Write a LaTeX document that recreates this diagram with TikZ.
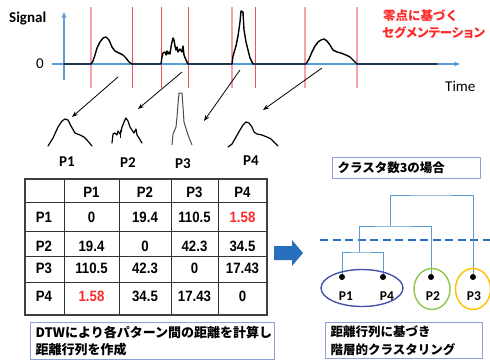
\documentclass[tikz,border=0pt]{standalone}
\usepackage{fontspec}
\setmainfont{Carlito}
\newfontfamily\jp{Noto Sans CJK JP}
\newfontfamily\jpp{Noto Sans CJK JP}[RawFeature=+palt]
\newfontfamily\tabf{Liberation Sans}[FakeStretch=0.88]
\usetikzlibrary{arrows.meta}
\definecolor{axisblue}{RGB}{91,155,213}
\definecolor{segred}{RGB}{240,80,95}
\definecolor{segpink}{RGB}{250,160,170}
\definecolor{hot}{RGB}{255,40,40}
\definecolor{boxline}{RGB}{143,160,215}
\definecolor{bigblue}{RGB}{40,112,190}
\definecolor{elblue}{RGB}{68,84,168}
\definecolor{elgreen}{RGB}{140,200,75}
\definecolor{elorange}{RGB}{255,192,0}
\newcommand\myfs[2]{\fontsize{#1}{#2}\selectfont}
\tikzset{
  lab/.style={inner sep=0, font=\myfs{15}{18}\bfseries},
  tabtxt/.style={inner sep=0, font=\tabf\myfs{15}{18}\bfseries},
  capbox/.style={draw=boxline, line width=1pt, anchor=north west, inner xsep=5pt, inner ysep=0pt, align=left, font=\jp\bfseries\myfs{13}{17.5}},
  arr/.style={-{Stealth[length=6pt,width=4.5pt]}, line width=0.8pt},
  segline/.style={segred, line width=1pt},
  segwide/.style={segpink, line width=1.8pt},
  wave/.style={line width=1.4pt, line join=round, line cap=round},
  pat/.style={line width=1.2pt, line join=round, line cap=round},
  dot/.style={circle, fill=black, inner sep=0, minimum size=6pt},
  dendro/.style={axisblue, line width=1pt},
}
\begin{document}
\begin{tikzpicture}[x=1pt,y=-1pt]
\useasboundingbox (0,0) rectangle (490,360);

% ---------- segmentation lines ----------
\foreach \x in {91,232,305,357} \draw[segwide] (\x,7) -- (\x,88);
\foreach \x in {132,161,188,255} \draw[segline] (\x,7) -- (\x,88);

% ---------- axes ----------
\coordinate (xs) at (52,64);
\coordinate (xe) at (460,64);
\coordinate (ys) at (64,80);
\coordinate (ye) at (64,12);
\draw[axisblue, line width=1.4pt, -{Stealth[length=6pt,width=5pt]}] (xs) -- (xe);
\draw[axisblue, line width=1.4pt, -{Stealth[length=6pt,width=5pt]}] (ys) -- (ye);
\node[lab, anchor=west] (sig) at (9,19) {Signal};
\node[inner sep=0, font=\myfs{15}{18}] (zero) at (40,64) {0};
\node[inner sep=0, font=\myfs{15}{18}, anchor=west] (time) at (445,86) {Time};

% ---------- signal ----------
\draw[wave] (64,64) -- (91,64) -- (93,61) -- (95,55) -- (97,48) -- (100,42) -- (103,38) -- (106,37) -- (109,40) -- (112,47) -- (115,51) -- (119,53) -- (123,55) -- (126,58) -- (129,62) -- (132,64)
 -- (161,64) -- (162,57) -- (163,53) -- (165,52) -- (166,55) -- (167,51) -- (168,54) -- (169,52) -- (170,54) -- (171,47) -- (172,42) -- (173,38) -- (174,40) -- (175,46) -- (176,50) -- (177,47) -- (178,52) -- (180,49) -- (182,52) -- (183,46) -- (184,55) -- (186,60) -- (188,64)
 -- (232,64) -- (233,56) -- (236,46) -- (238,36) -- (240,22) -- (241,11) -- (243,12) -- (244,30) -- (246,42) -- (248,50) -- (250,58) -- (253,64)
 -- (306,64) -- (309,59) -- (312,52) -- (315,46) -- (318,42) -- (321,40) -- (324,39) -- (327,41) -- (330,45) -- (333,50) -- (337,52) -- (341,53) -- (346,55) -- (350,57) -- (354,61) -- (357,64) -- (437,64);

% ---------- extracted patterns ----------
\draw[pat] (48,146) -- (53,138) -- (58,127) -- (62,121) -- (65,119) -- (68,120) -- (71,126) -- (75,133) -- (80,135) -- (84,137) -- (87,140) -- (92,146);
\draw[pat] (112,143) -- (113,134) -- (115,133) -- (117,135) -- (118,131) -- (120,134) -- (121,132) -- (122,127) -- (124,122) -- (126,118) -- (128,121) -- (130,127) -- (132,130) -- (134,133) -- (136,129) -- (137,135) -- (139,138) -- (142,143);
\draw[line width=0.5pt] (120,130) -- (120,138);
\draw[black!70, line width=1pt, line join=round] (172,145) -- (173,134) -- (176,127) -- (177,117) -- (178,104) -- (179,93) -- (182,93) -- (183,107) -- (184,122) -- (188,135) -- (192,145);
\draw[pat] (228,147) -- (232,144) -- (236,137) -- (240,130) -- (243,125) -- (246,122) -- (249,123) -- (252,127) -- (254,132) -- (257,134) -- (262,135) -- (267,137) -- (271,139) -- (275,143) -- (278,146);

\node[lab] (lp1) at (67,162) {P1};
\node[lab] (lp2) at (128,163) {P2};
\node[lab] (lp3) at (183,164) {P3};
\node[lab] (lp4) at (251,161) {P4};

% ---------- arrows to patterns ----------
\coordinate (a1s) at (118,77); \coordinate (a1e) at (72,117);
\coordinate (a2s) at (182,72); \coordinate (a2e) at (138,109);
\coordinate (a3s) at (240,70); \coordinate (a3e) at (204,121);
\coordinate (a4s) at (322,68); \coordinate (a4e) at (263,110);
\draw[arr] (a1s) -- (a1e);
\draw[arr] (a2s) -- (a2e);
\draw[arr] (a3s) -- (a3e);
\draw[arr] (a4s) -- (a4e);

% ---------- red caption ----------
\node[inner sep=0, anchor=west, text=hot, font=\jp\bfseries\myfs{12.5}{15}] (seg1) at (383,16) {零点に基づく};
\node[inner sep=0, anchor=west, text=hot, font=\jpp\bfseries\myfs{12.5}{15}] (seg2) at (382,33) {セグメンテーション};

% ---------- table ----------
\foreach \y in {202,231,256,282} \draw[black!80, line width=0.8pt] (25,\y) -- (267,\y);
\foreach \x in {64,119,171,218} \draw[black!80, line width=0.8pt] (\x,179) -- (\x,315);
\draw[black!75, line width=1.8pt] (25,179) rectangle (267,315);

\node[tabtxt] (h1) at (91.5,192) {P1};
\node[tabtxt] (h2) at (145,192) {P2};
\node[tabtxt] (h3) at (194.5,192) {P3};
\node[tabtxt] (h4) at (242.5,192) {P4};

\node[tabtxt] (r1) at (44,217) {P1};
\node[tabtxt] (r2) at (44,246) {P2};
\node[tabtxt] (r3) at (44,268) {P3};
\node[tabtxt] (r4) at (44,296) {P4};

\node[tabtxt] (c11) at (91.5,217) {0};
\node[tabtxt] (c12) at (145,217) {19.4};
\node[tabtxt] (c13) at (194.5,217) {110.5};
\node[tabtxt, text=hot] (c14) at (242.5,217) {1.58};

\node[tabtxt] (c21) at (91.5,246) {19.4};
\node[tabtxt] (c22) at (145,246) {0};
\node[tabtxt] (c23) at (194.5,246) {42.3};
\node[tabtxt] (c24) at (242.5,246) {34.5};

\node[tabtxt] (c31) at (91.5,268) {110.5};
\node[tabtxt] (c32) at (145,268) {42.3};
\node[tabtxt] (c33) at (194.5,268) {0};
\node[tabtxt] (c34) at (242.5,268) {17.43};

\node[tabtxt, text=hot] (c41) at (91.5,296) {1.58};
\node[tabtxt] (c42) at (145,296) {34.5};
\node[tabtxt] (c43) at (194.5,296) {17.43};
\node[tabtxt] (c44) at (242.5,296) {0};

\node[capbox, minimum width=244pt, minimum height=37pt, text width=234pt] (cap1) at (30,322)
  {DTWにより各パターン間の距離を計算し\\距離行列を作成};

% ---------- big arrow ----------
\fill[bigblue] (274,246) -- (292,246) -- (292,240) -- (303,253) -- (292,266) -- (292,260) -- (274,260) -- cycle;

% ---------- dendrogram ----------
\node[capbox, minimum width=148pt, minimum height=21pt, text width=138pt, font=\jp\bfseries\myfs{12.5}{15}] (ncl) at (332,157) {クラスタ数3の場合};

\coordinate (dl1) at (320,240);
\coordinate (dl2) at (490,240);
\draw[bigblue, line width=1.8pt, dash pattern=on 8pt off 4.5pt] (dl1) -- (dl2);

\coordinate (m14) at (359,252);
\coordinate (m142) at (390,226);
\coordinate (mall) at (430,195);
\draw[dendro] (342,277) |- (m14) -| (383,277);
\draw[dendro] (m14) |- (m142) -| (431,277);
\draw[dendro] (m142) |- (mall) -| (473,277);

\draw[elblue, line width=1.4pt] (362,288) ellipse [x radius=41pt, y radius=18.5pt];
\draw[elgreen, line width=1.4pt] (432,289) ellipse [x radius=18pt, y radius=20.5pt];
\draw[elorange, line width=1.4pt] (473,289) ellipse [x radius=17.5pt, y radius=20.5pt];

\node[dot] (dP1) at (342,277) {};
\node[dot] (dP4) at (383,277) {};
\node[dot] (dP2) at (431,277) {};
\node[dot] (dP3) at (473,277) {};

\node[lab, font=\myfs{13.5}{16}\bfseries] (tP1) at (346,296) {P1};
\node[lab, font=\myfs{13.5}{16}\bfseries] (tP4) at (387,296) {P4};
\node[lab, font=\myfs{13.5}{16}\bfseries] (tP2) at (433,296) {P2};
\node[lab, font=\myfs{13.5}{16}\bfseries] (tP3) at (474,296) {P3};

\node[capbox, minimum width=157pt, minimum height=36pt, text width=147pt, font=\jp\bfseries\myfs{12.5}{17.5}] (cap2) at (325,322)
  {距離行列に基づき\\階層的クラスタリング};
\end{tikzpicture}
\end{document}
